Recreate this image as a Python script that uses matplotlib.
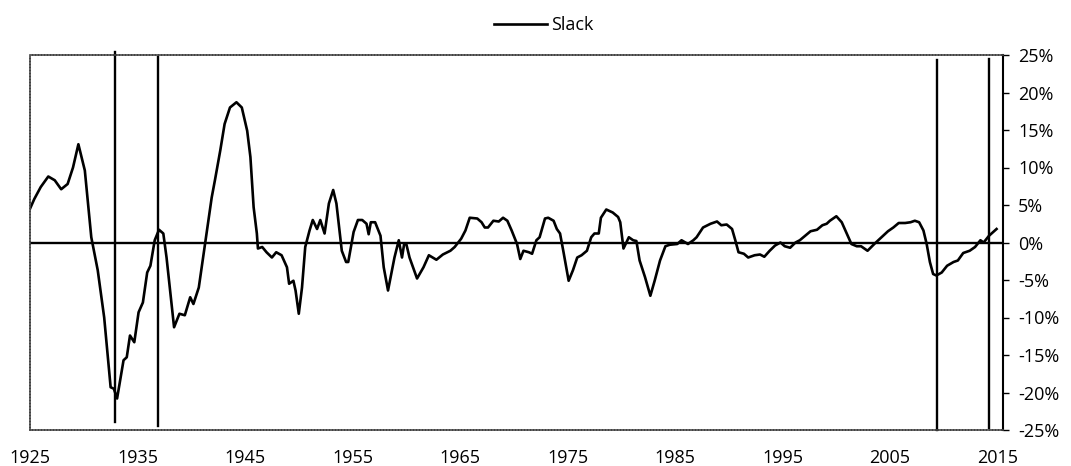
import matplotlib.pyplot as plt
from matplotlib.ticker import FuncFormatter

plt.rcParams['font.family'] = ['Open Sans', 'DejaVu Sans']

# series (year, slack in %)
years = [
    1925.0, 1925.4, 1926.0, 1926.7, 1927.3, 1927.9, 1928.5, 1929.0, 1929.5, 1930.1,
    1930.7, 1931.3, 1931.9, 1932.5, 1932.8, 1933.1, 1933.7, 1934.0, 1934.3, 1934.7,
    1935.1, 1935.5, 1935.9, 1936.2, 1936.6, 1937.0, 1937.4, 1937.7, 1938.1, 1938.4,
    1938.9, 1939.4, 1939.9, 1940.2, 1940.7, 1941.3, 1941.9, 1942.2, 1942.7, 1943.1,
    1943.6, 1944.2, 1944.7, 1945.2, 1945.5, 1945.8, 1946.1, 1946.2, 1946.6, 1947.0,
    1947.5, 1947.9, 1948.4, 1948.9, 1949.1, 1949.5, 1949.7, 1950.0, 1950.3, 1950.6,
    1951.0, 1951.3, 1951.7, 1952.0, 1952.4, 1952.8, 1953.2, 1953.5, 1954.0, 1954.4,
    1954.6, 1955.1, 1955.5, 1955.9, 1956.3, 1956.5, 1956.7, 1957.1, 1957.4, 1957.6,
    1957.9, 1958.3, 1958.6, 1958.9, 1959.3, 1959.6, 1959.8, 1960.0, 1960.3, 1961.0,
    1961.6, 1962.1, 1962.8, 1963.4, 1964.1, 1964.5, 1965.1, 1965.5, 1965.9, 1966.6,
    1967.0, 1967.3, 1967.6, 1968.1, 1968.6, 1969.0, 1969.4, 1969.8, 1970.3, 1970.6,
    1970.9, 1971.4, 1971.7, 1972.1, 1972.4, 1972.9, 1973.2, 1973.7, 1974.0, 1974.3,
    1974.6, 1975.1, 1975.5, 1975.9, 1976.3, 1976.8, 1977.2, 1977.5, 1977.9, 1978.1,
    1978.6, 1979.2, 1979.7, 1979.9, 1980.2, 1980.7, 1981.1, 1981.4, 1981.7, 1982.2,
    1982.7, 1983.1, 1983.6, 1984.1, 1984.5, 1985.2, 1985.6, 1986.2, 1986.7, 1987.0,
    1987.6, 1988.3, 1988.9, 1989.3, 1989.8, 1990.3, 1990.6, 1990.9, 1991.4, 1991.8,
    1992.4, 1992.9, 1993.3, 1993.8, 1994.3, 1994.8, 1995.2, 1995.7, 1996.2, 1996.6,
    1997.1, 1997.6, 1998.2, 1998.7, 1999.1, 1999.4, 2000.0, 2000.5, 2000.9, 2001.4,
    2001.9, 2002.3, 2002.9, 2003.6, 2004.2, 2004.8, 2005.3, 2005.8, 2006.4, 2006.9,
    2007.3, 2007.7, 2008.1, 2008.4, 2008.7, 2009.0, 2009.3, 2009.8, 2010.3, 2010.9,
    2011.3, 2011.8, 2012.4, 2012.9, 2013.4, 2013.7, 2014.2, 2014.9,
]
slack = [
    4.5, 5.8, 7.4, 8.8, 8.3, 7.1, 7.8, 10.0, 13.1, 9.6,
    0.7, -3.7, -10.0, -19.3, -19.5, -20.8, -15.7, -15.3, -12.4, -13.3,
    -9.3, -8.0, -4.0, -3.1, 0.3, 1.7, 1.2, -2.0, -7.3, -11.3,
    -9.5, -9.7, -7.3, -8.2, -6.0, 0.0, 6.0, 8.3, 12.3, 15.8,
    18.0, 18.7, 18.0, 14.9, 11.4, 4.7, 1.2, -0.8, -0.6, -1.3,
    -2.0, -1.3, -1.7, -3.3, -5.5, -5.1, -6.4, -9.5, -6.0, -0.6,
    1.6, 3.0, 1.8, 3.0, 1.2, 5.2, 7.0, 5.2, -1.1, -2.6,
    -2.6, 1.4, 3.0, 3.0, 2.5, 1.1, 2.7, 2.7, 1.6, 0.9,
    -3.3, -6.4, -4.2, -2.0, 0.3, -2.0, -0.2, -0.2, -2.0, -4.8,
    -3.3, -1.7, -2.3, -1.6, -1.1, -0.6, 0.5, 1.6, 3.3, 3.2,
    2.7, 2.0, 2.0, 2.9, 2.8, 3.3, 2.9, 1.6, -0.2, -2.2,
    -1.1, -1.3, -1.5, 0.3, 0.7, 3.2, 3.3, 2.9, 1.8, 1.2,
    -1.1, -5.1, -3.7, -2.0, -1.7, -1.1, 0.7, 1.2, 1.2, 3.3,
    4.4, 4.0, 3.4, 2.7, -0.8, 0.7, 0.3, 0.2, -2.4, -4.6,
    -7.1, -5.1, -2.4, -0.5, -0.3, -0.2, 0.3, -0.2, 0.3, 0.7,
    2.0, 2.5, 2.8, 2.3, 2.4, 1.8, 0.3, -1.3, -1.5, -2.0,
    -1.7, -1.6, -1.9, -1.1, -0.4, 0.0, -0.5, -0.7, 0.0, 0.3,
    0.9, 1.5, 1.7, 2.3, 2.5, 2.9, 3.5, 2.7, 1.4, -0.2,
    -0.5, -0.5, -1.1, -0.1, 0.7, 1.5, 2.0, 2.6, 2.6, 2.7,
    2.9, 2.7, 1.6, -0.2, -2.6, -4.2, -4.4, -4.0, -3.1, -2.6,
    -2.4, -1.4, -1.1, -0.6, 0.3, 0.0, 0.9, 1.8,
]

# vertical marker lines: year, bottom, top (in %)
marker_years = [1932.9, 1936.9, 2009.4, 2014.2]
marker_low = [-23.9, -24.5, -25.0, -24.7]
marker_high = [25.4, 24.7, 24.4, 24.5]

x_ticks = list(range(1925, 2016, 10))
y_ticks = list(range(-25, 26, 5))

fig = plt.figure(figsize=(10.71, 4.66), dpi=100)
ax = fig.add_axes([30 / 1071, 1 - 430 / 466, 973 / 1071, 375 / 466])

ax.plot(years, slack, color='black', lw=1.9, label='Slack', solid_joinstyle='round')
ax.axhline(0, color='black', lw=1.7)
for yr, lo, hi in zip(marker_years, marker_low, marker_high):
    ax.plot([yr, yr], [lo, hi], color='black', lw=1.7, clip_on=False)

ax.set_xlim(1925, 2015.5)
ax.set_ylim(-25, 25)

ax.set_xticks(x_ticks)
ax.tick_params(axis='x', length=0, pad=14, labelsize=13)
ax.yaxis.tick_right()
ax.set_yticks(y_ticks)
ax.yaxis.set_major_formatter(FuncFormatter(lambda v, p: f'{v:.0f}%'))
ax.tick_params(axis='y', length=4, width=1, pad=7, labelsize=13, direction='out')

for side in ['top', 'bottom', 'left']:
    ax.spines[side].set_linestyle((0, (1, 0.8)))
    ax.spines[side].set_color('#444444')
    ax.spines[side].set_linewidth(1.2)
ax.spines['right'].set_color('black')
ax.spines['right'].set_linewidth(1.5)

fig.legend(loc='upper center', bbox_to_anchor=(0.508, 1.0), frameon=False,
           fontsize=13, handlelength=2.9, handletextpad=0.25)

fig.savefig('out.png', dpi=100)
